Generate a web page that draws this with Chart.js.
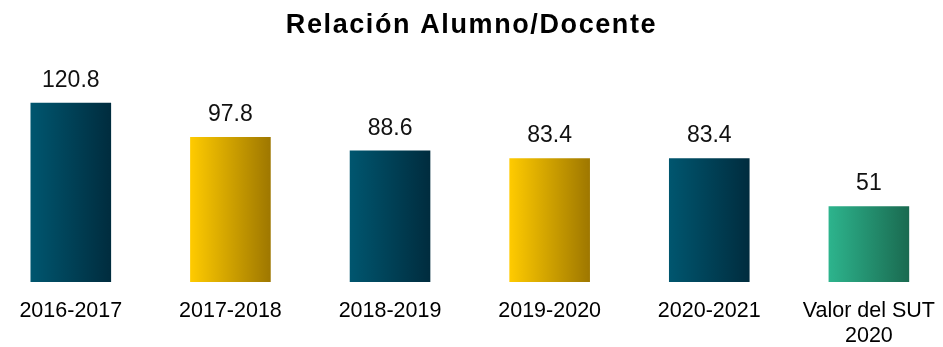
<!DOCTYPE html>
<html lang="es">
<head>
<meta charset="utf-8">
<title>Relación Alumno/Docente</title>
<script src="https://cdn.jsdelivr.net/npm/chart.js@4/dist/chart.umd.min.js"></script>
<style>
  html, body { margin: 0; padding: 0; background: #ffffff; overflow: hidden; }
  body { width: 943px; height: 347px; position: relative; }
  #wrap { position: absolute; left: -9px; top: 0; width: 961px; height: 366px; }
</style>
</head>
<body>
<div id="wrap"><canvas id="chart"></canvas></div>
<script>
// Ratio of students per teacher, by school year, plus the reference value
const categories = ['2016-2017', '2017-2018', '2018-2019', '2019-2020', '2020-2021', ['Valor del SUT', '2020']];
const ratios = [120.8, 97.8, 88.6, 83.4, 83.4, 51];
const valueLabels = ['120.8', '97.8', '88.6', '83.4', '83.4', '51'];

// Left/right colour stops of each bar's horizontal gradient
const gradientStops = [
  ['#00566f', '#002c3e'],
  ['#ffcb00', '#9e7700'],
  ['#00566f', '#002c3e'],
  ['#ffcb00', '#9e7700'],
  ['#00566f', '#002c3e'],
  ['#2db48d', '#1a6a50']
];

const BAR_FRACTION = 0.505;
const FONT = "'Liberation Sans', Arial, Helvetica, sans-serif";

function barFill(ctx) {
  const chart = ctx.chart;
  const stops = gradientStops[ctx.dataIndex];
  const area = chart.chartArea;
  const xScale = chart.scales.x;
  if (!area || !xScale) return stops[0];
  const cx = xScale.getPixelForValue(ctx.dataIndex);
  const half = (area.width / categories.length) * BAR_FRACTION / 2;
  const g = chart.ctx.createLinearGradient(cx - half, 0, cx + half, 0);
  g.addColorStop(0, stops[0]);
  g.addColorStop(1, stops[1]);
  return g;
}

// Slightly widened lettering for the title only
const titleSpacing = {
  id: 'titleSpacing',
  beforeDraw(chart) {
    const block = chart.titleBlock;
    if (!block || block._spaced) return;
    const draw = block.draw.bind(block);
    block.draw = function (area) {
      const c = chart.ctx;
      const prev = c.letterSpacing;
      c.letterSpacing = '1.6px';
      draw(area);
      c.letterSpacing = prev || '0px';
    };
    block._spaced = true;
  }
};

// Value written above every bar
const barValues = {
  id: 'barValues',
  afterDatasetsDraw(chart) {
    const ctx = chart.ctx;
    const meta = chart.getDatasetMeta(0);
    ctx.save();
    ctx.font = '23px ' + FONT;
    ctx.fillStyle = '#111111';
    ctx.textAlign = 'center';
    ctx.textBaseline = 'alphabetic';
    meta.data.forEach((bar, i) => {
      ctx.fillText(valueLabels[i], bar.x, bar.y - 16);
    });
    ctx.restore();
  }
};

new Chart(document.getElementById('chart'), {
  type: 'bar',
  data: {
    labels: categories,
    datasets: [{
      data: ratios,
      backgroundColor: barFill,
      borderWidth: 0,
      categoryPercentage: 1,
      barPercentage: BAR_FRACTION
    }]
  },
  options: {
    responsive: true,
    maintainAspectRatio: false,
    animation: false,
    layout: { padding: 0 },
    plugins: {
      legend: { display: false },
      tooltip: { enabled: false },
      title: {
        display: true,
        text: 'Relación Alumno/Docente',
        color: '#000000',
        font: { family: FONT, size: 27, weight: 'bold', lineHeight: 1.2 },
        padding: { top: 9, bottom: 33 }
      }
    },
    scales: {
      x: {
        grid: { display: false, drawTicks: false },
        border: { display: false },
        ticks: {
          color: '#000000',
          font: { family: FONT, size: 21.5, lineHeight: 1.163 },
          padding: 17,
          maxRotation: 0,
          autoSkip: false
        }
      },
      y: {
        display: false,
        min: 0,
        max: 140
      }
    }
  },
  plugins: [titleSpacing, barValues]
});
</script>
</body>
</html>
